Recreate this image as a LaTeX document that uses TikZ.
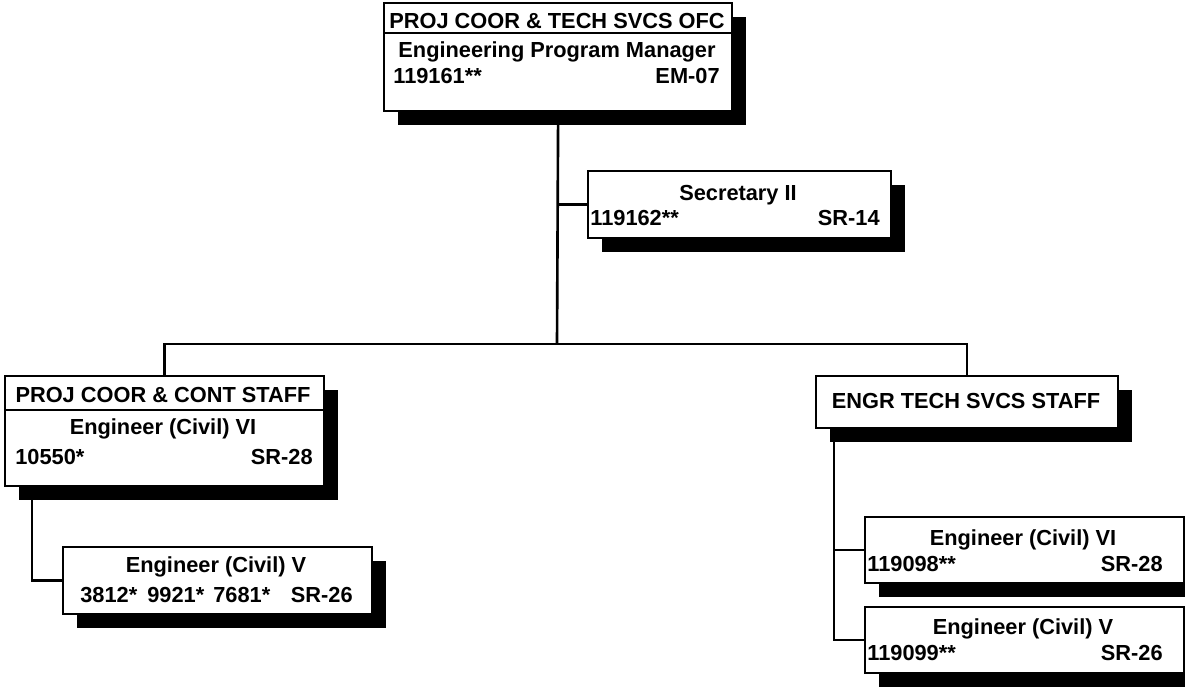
\documentclass[tikz,border=0pt]{standalone}
\usepackage{fontspec}
\setmainfont{Liberation Sans}
\usetikzlibrary{shadows}

\tikzset{
  unit/.style 2 args={draw, fill=white, line width=1.3pt, inner sep=0pt,
    anchor=north west, minimum width=#1*0.02cm, minimum height=#2*0.02cm,
    drop shadow={shadow xshift=0.28cm, shadow yshift=-0.28cm, fill=black, opacity=1}},
  lbl/.style={font=\bfseries\fontsize{12.4}{14}\selectfont, inner sep=0pt,
    text height=8.9pt, text depth=0pt},
  link/.style={line width=1.5pt}
}

\begin{document}
\begin{tikzpicture}[x=0.02cm, y=-0.02cm]
      \useasboundingbox (0, 0) rectangle (1185, 687);

      % Boxes
      \node[unit={348}{108}] (mgr) at (383, 2) {};
      \node[unit={303}{67}] (sec) at (587, 170) {};
      \node[unit={319}{110}] (ccs) at (4, 375) {};
      \node[unit={309}{67}] (civL) at (62, 546) {};
      \node[unit={302}{52}] (ets) at (815, 375) {};
      \node[unit={319}{66}] (civA) at (864, 516) {};
      \node[unit={319}{66}] (civB) at (864, 606) {};

      % Header rules
      \draw[line width=1.3pt] (mgr.west |- 0, 33) -- (mgr.east |- 0, 33);
      \draw[line width=1.3pt] (ccs.west |- 0, 410) -- (ccs.east |- 0, 410);

      % Connectors
      \coordinate (bus) at (557, 344);
      \coordinate (ccsdrop) at (32, 485);
      \coordinate (etsdrop) at (834, 427);
      \draw[link] (mgr.south) -- (bus);
      \draw[link] (ccs.north) |- (bus) -| (ets.north);
      \draw[link] (mgr.south |- sec.west) -- (sec.west);
      \draw[link] (ccsdrop) |- (civL.west);
      \draw[link] (etsdrop) |- (civA.west);
      \draw[link] (etsdrop) |- (civB.west);

      % Office
      \node[lbl] (mgrT) at (557, 21) {PROJ COOR \& TECH SVCS OFC};
      \node[lbl] (mgrJ) at (557, 50) {Engineering Program Manager};
      \node[lbl, anchor=west] (mgrN) at (393, 76) {119161**};
      \node[lbl, anchor=east] (mgrG) at (720, 76) {EM-07};
      % Secretary
      \node[lbl] (secJ) at (738, 193) {Secretary II};
      \node[lbl, anchor=west] (secN) at (590, 218) {119162**};
      \node[lbl, anchor=east] (secG) at (880, 218) {SR-14};
      % Left staff
      \node[lbl] (ccsT) at (163, 395) {PROJ COOR \& CONT STAFF};
      \node[lbl] (ccsJ) at (163, 427) {Engineer (Civil) VI};
      \node[lbl, anchor=west] (ccsN) at (15, 457) {10550*};
      \node[lbl, anchor=east] (ccsG) at (313, 457) {SR-28};
      \node[lbl] (civLJ) at (216, 565) {Engineer (Civil) V};
      \node[lbl, anchor=west] (civLa) at (80, 595) {3812*};
      \node[lbl, anchor=west] (civLb) at (147, 595) {9921*};
      \node[lbl, anchor=west] (civLc) at (213, 595) {7681*};
      \node[lbl, anchor=east] (civLG) at (353, 595) {SR-26};
      % Right staff
      \node[lbl] (etsT) at (966, 401) {ENGR TECH SVCS STAFF};
      \node[lbl] (civAJ) at (1023, 538) {Engineer (Civil) VI};
      \node[lbl, anchor=west] (civAN) at (867, 564) {119098**};
      \node[lbl, anchor=east] (civAG) at (1163, 564) {SR-28};
      \node[lbl] (civBJ) at (1023, 627) {Engineer (Civil) V};
      \node[lbl, anchor=west] (civBN) at (867, 653) {119099**};
      \node[lbl, anchor=east] (civBG) at (1163, 653) {SR-26};
    \end{tikzpicture}
\end{document}
